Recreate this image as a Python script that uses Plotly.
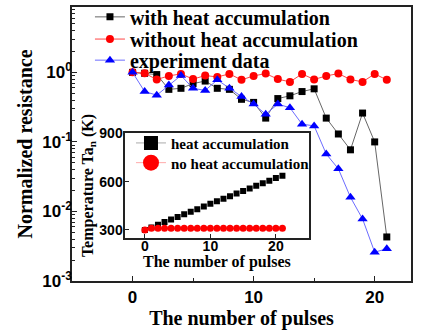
import plotly.graph_objects as go

pulses = list(range(22))
with_heat = [1.0, 0.97, 0.93, 0.57, 0.59, 0.69, 0.75, 0.59, 0.57, 0.41, 0.37, 0.22,
             0.42, 0.46, 0.53, 0.58, 0.22, 0.13, 0.077, 0.26, 0.10, 0.0043]
without_heat = [1.0, 0.97, 0.79, 0.89, 0.95, 0.80, 0.90, 0.86, 0.95, 0.78, 0.89, 0.96,
                0.80, 0.73, 0.95, 0.79, 0.89, 0.96, 0.79, 0.73, 0.95, 0.78]
experiment = [1.0, 0.53, 0.47, 0.66, 0.90, 0.59, 0.55, 0.78, 0.59, 0.45, 0.35, 0.25,
              0.35, 0.31, 0.18, 0.17, 0.067, 0.041, 0.016, 0.0078, 0.0026, 0.0029]

temp_heat = [300, 316, 333, 349, 365, 381, 397, 413, 429, 445, 462, 478, 494, 510,
             526, 542, 558, 574, 590, 606, 622, 636]
temp_noheat = [300, 310, 310, 310, 310, 310, 310, 310, 310, 310, 310, 310, 310, 310,
               310, 310, 310, 310, 310, 310, 310, 310]

main_yticks = [1e-3, 1e-2, 1e-1, 1]
main_yticktext = ["10<sup>-3</sup>", "10<sup>-2</sup>", "10<sup>-1</sup>", "10<sup>0</sup>"]

SERIF = "Liberation Serif"
SANS = "Liberation Sans"

fig = go.Figure()

fig.add_trace(go.Scatter(x=pulses, y=with_heat, name="<b>with heat accumulation</b>",
                         mode="lines+markers", line=dict(color="#555555", width=0.9),
                         marker=dict(symbol="square", size=7, color="black"),
                         legend="legend"))
fig.add_trace(go.Scatter(x=pulses, y=without_heat, name="<b>without heat accumulation</b>",
                         mode="lines+markers", line=dict(color="#ff3030", width=0.9),
                         marker=dict(symbol="circle", size=8, color="#ff0000"),
                         legend="legend3"))
fig.add_trace(go.Scatter(x=pulses, y=experiment, name="<b>experiment data</b>",
                         mode="lines+markers", line=dict(color="#5a5aff", width=0.9),
                         marker=dict(symbol="triangle-up", size=9, color="#0000ff"),
                         legend="legend4"))

# inset
fig.add_trace(go.Scatter(x=pulses, y=temp_heat, mode="markers", showlegend=False,
                         marker=dict(symbol="square", size=6, color="black"),
                         xaxis="x2", yaxis="y2"))
fig.add_trace(go.Scatter(x=pulses, y=temp_noheat, mode="markers", showlegend=False,
                         marker=dict(symbol="circle", size=7, color="#ff0000"),
                         xaxis="x2", yaxis="y2"))
fig.add_trace(go.Scatter(x=[None], y=[None], name="<b>heat accumulation</b>",
                         mode="lines+markers", line=dict(color="#aaaaaa", width=1),
                         marker=dict(symbol="square", size=14, color="black"),
                         xaxis="x2", yaxis="y2", legend="legend2"))
fig.add_trace(go.Scatter(x=[None], y=[None], name="<b>no heat accumulation</b>",
                         mode="lines+markers", line=dict(color="#ffaaaa", width=1),
                         marker=dict(symbol="circle", size=16, color="#ff0000"),
                         xaxis="x2", yaxis="y2", legend="legend5"))

axis_common = dict(showline=True, linecolor="#222222", linewidth=1.5, mirror=True,
                   showgrid=False, zeroline=False, ticks="inside", tickcolor="#222222")

main_leg = dict(xanchor="left", yanchor="middle", bgcolor="rgba(0,0,0,0)",
                font=dict(family=SERIF, size=20, color="black"))
inset_leg = dict(xanchor="left", yanchor="middle", bgcolor="rgba(0,0,0,0)",
                 font=dict(family=SERIF, size=15, color="black"))

fig.update_layout(
    width=424, height=330,
    margin=dict(l=72, r=13, t=7, b=49, autoexpand=False),
    font=dict(family=SERIF, color="black"),
    paper_bgcolor="white", plot_bgcolor="white",
    xaxis=dict(range=[-5, 23], tickvals=[0, 10, 20], ticklen=5, tickwidth=1.2,
               minor=dict(dtick=5, tick0=0, ticklen=3, ticks="inside", tickcolor="#222222"),
               tickfont=dict(family=SANS, size=17, color="black", weight="bold"),
               title=dict(text="<b>The number of pulses</b>",
                          font=dict(family=SERIF, size=20, color="black"), standoff=0),
               **axis_common),
    yaxis=dict(type="log", range=[-3, 0.94], tickvals=main_yticks, ticktext=main_yticktext,
               ticklen=5, tickwidth=1.2, ticklabelstandoff=-5,
               minor=dict(ticks="inside", ticklen=3, tickcolor="#222222",
                          tickvals=[v * m for v in [1e-3, 1e-2, 1e-1, 1] for m in range(2, 10)]),
               tickfont=dict(family=SANS, size=17, color="black", weight="bold"),
               title=dict(text="<b>Normalized resistance</b>",
                          font=dict(family=SERIF, size=20, color="black"), standoff=4),
               **axis_common),
    xaxis2=dict(domain=[0.157, 0.698], anchor="y2", range=[-3, 25], tickvals=[0, 10, 20],
                ticklen=4, ticklabelstandoff=-5,
                tickfont=dict(family=SANS, size=14, color="black", weight="bold"),
                **axis_common),
    yaxis2=dict(domain=[0.158, 0.539], anchor="x2", range=[252, 900],
                tickvals=[300, 600, 900], ticklen=4, ticklabelstandoff=-2,
                tickfont=dict(family=SANS, size=14, color="black", weight="bold"),
                title=dict(text="<b>Temperature Ta<sub>n</sub> (K)</b>",
                           font=dict(family=SERIF, size=16, color="black"), standoff=2),
                **axis_common),
    legend=dict(x=0.053, y=0.964, **main_leg),
    legend3=dict(x=0.053, y=0.883, **main_leg),
    legend4=dict(x=0.053, y=0.806, **main_leg),
    legend2=dict(x=0.174, y=0.503, **inset_leg),
    legend5=dict(x=0.174, y=0.431, **inset_leg),
    annotations=[dict(text="<b>The number of pulses</b>", xref="paper", yref="paper",
                      x=0.4275, y=0.070, xanchor="center", yanchor="middle",
                      showarrow=False, font=dict(family=SERIF, size=16, color="black"))],
)

fig.write_html("out.html")
